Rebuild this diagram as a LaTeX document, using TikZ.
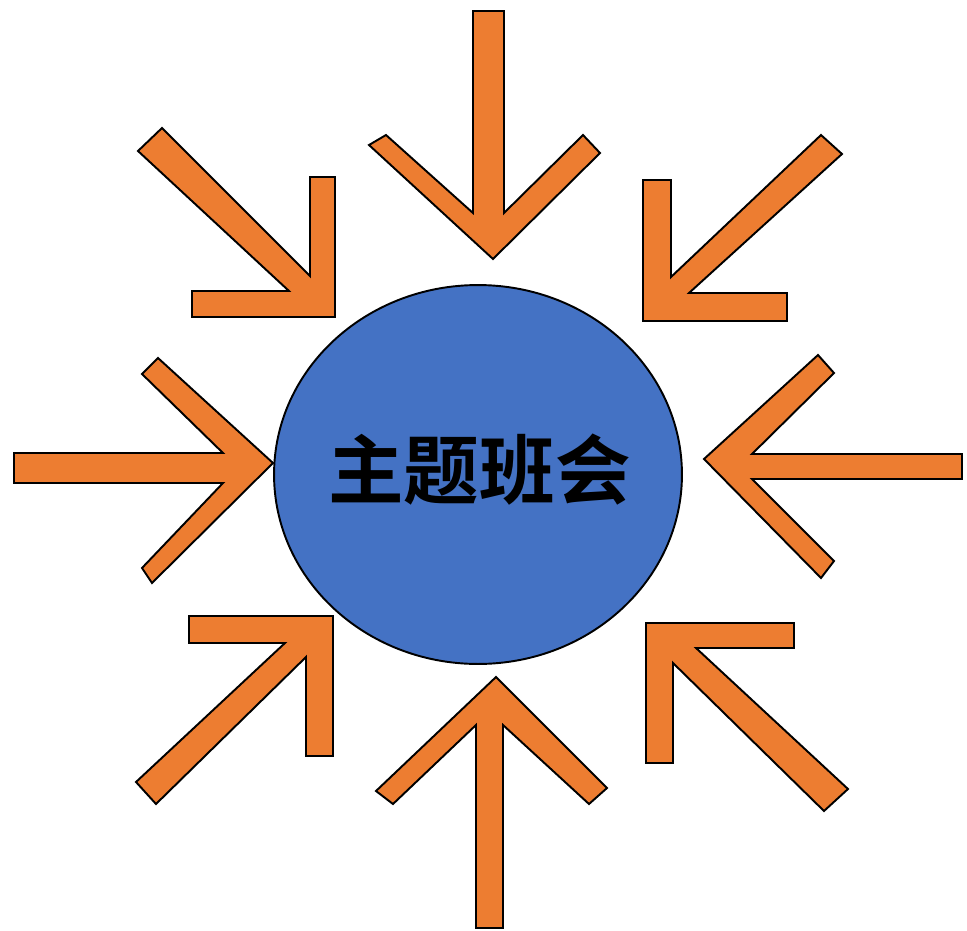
\documentclass[tikz,border=0pt]{standalone}
\usepackage{fontspec}
\newfontfamily\cjk{Noto Sans CJK SC Bold}
\usetikzlibrary{shapes.geometric}
\definecolor{hotorange}{HTML}{ED7D31}
\definecolor{meetblue}{HTML}{4472C4}
\begin{document}
\begin{tikzpicture}[x=0.02cm, y=-0.02cm,
    inarrow/.style={fill=hotorange, draw=black, line width=1.1pt, line join=miter},
    hub/.style={ellipse, fill=meetblue, draw=black, line width=1.1pt,
      minimum width=8.16cm, minimum height=7.58cm, inner sep=0pt}]
  \useasboundingbox (0,0) rectangle (967,930);
  \node[hub] (hub) at (478,474.5) {};
  \node[font=\cjk\fontsize{43}{43}\selectfont] (title) at (479.5,469.5) {主题班会};
  % top
  \draw[inarrow] (473,11) -- (504,11) -- (504,213) -- (583,135) -- (600,153)
    -- (493,259) -- (369,145) -- (386,135) -- (473,213) -- cycle;
  % top left
  \draw[inarrow] (162,128) -- (310,276) -- (310,177) -- (335,177) -- (335,317)
    -- (192,317) -- (192,291) -- (289,291) -- (138,151) -- cycle;
  % top right
  \draw[inarrow] (821,135) -- (671,277) -- (671,180) -- (643,180) -- (643,321)
    -- (787,321) -- (787,293) -- (689,293) -- (842,154) -- cycle;
  % left
  \draw[inarrow] (14,453) -- (223,453) -- (142,374) -- (158,358) -- (273,463)
    -- (152,583) -- (142,568) -- (223,483) -- (14,483) -- cycle;
  % right
  \draw[inarrow] (962,454) -- (752,454) -- (834,373) -- (818,355) -- (704,459)
    -- (821,578) -- (834,561) -- (752,479) -- (962,479) -- cycle;
  % bottom left
  \draw[inarrow] (189,616) -- (333,616) -- (333,756) -- (306,756) -- (306,657)
    -- (156,804) -- (136,782) -- (285,643) -- (189,643) -- cycle;
  % bottom right
  \draw[inarrow] (646,623) -- (794,623) -- (794,648) -- (696,648) -- (848,789)
    -- (824,811) -- (673,663) -- (673,763) -- (646,763) -- cycle;
  % bottom
  \draw[inarrow] (496,677) -- (607,788) -- (589,804) -- (503,725) -- (503,928)
    -- (476,928) -- (476,725) -- (393,804) -- (376,791) -- cycle;
\end{tikzpicture}
\end{document}
